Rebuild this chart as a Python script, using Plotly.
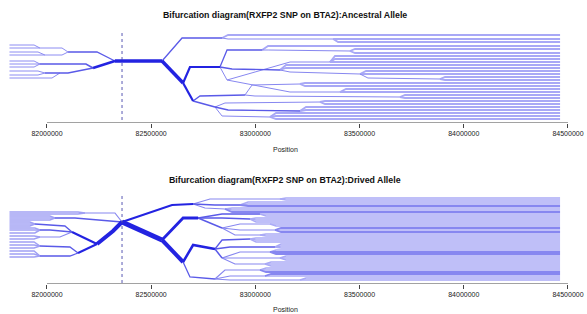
import plotly.graph_objects as go

# ---------------- data ----------------
TICK_KB = [82000, 82500, 83000, 83500, 84000, 84500]
TICK_TEXT = ["82000000", "82500000", "83000000", "83500000", "84000000", "84500000"]
SNP_KB = 82360          # focal SNP position (kb)
START_KB = 81820        # first marker (kb)
END_KB = 84462          # last marker (kb)

TITLES = ["Bifurcation diagram(RXFP2 SNP on BTA2):Ancestral Allele",
          "Bifurcation diagram(RXFP2 SNP on BTA2):Drived Allele"]
X_LABEL = "Position"

# internal branches: (line width ~ haplotype count, [(kb, lane), ...])
ANC_BRANCHES = [
    (3.5, [(82326, 31), (82552, 31)]),
    (1.3, [(82326, 31), (82240, 22), (82101, 22)]),
    (2.5, [(82326, 31), (82221, 38)]),
    (1.6, [(82221, 38), (82187, 34), (81966, 34)]),
    (1.6, [(82221, 38), (82101, 43), (81990, 43)]),
    (1.3, [(82552, 31), (82648, 8), (82840, 8)]),
    (1.0, [(82840, 8), (82869, 9), (83373, 9)]),
    (3.5, [(82552, 31), (82653, 53)]),
    (2.2, [(82653, 53), (82686, 37), (82830, 37)]),
    (1.3, [(82830, 37), (82864, 20), (83032, 20)]),
    (1.0, [(83032, 20), (83061, 20), (83454, 21)]),
    (1.0, [(82830, 37), (82864, 50), (83166, 32), (83358, 32)]),
    (1.3, [(82830, 37), (82888, 39), (83118, 40)]),
    (1.0, [(83118, 40), (83166, 42), (83502, 44)]),
    (1.0, [(83502, 44), (83540, 48), (83886, 49)]),
    (1.0, [(82864, 50), (83166, 62), (83406, 62)]),
    (2.2, [(82653, 53), (82701, 71)]),
    (1.3, [(82701, 71), (82734, 66), (82950, 65)]),
    (1.0, [(82950, 65), (82984, 55), (83214, 54)]),
    (1.0, [(82950, 65), (82998, 66), (83694, 67)]),
    (1.6, [(82701, 71), (82806, 77)]),
    (1.0, [(82806, 77), (82854, 73), (83310, 72)]),
    (1.3, [(82806, 77), (82869, 80), (83214, 81)]),
    (1.0, [(82806, 77), (82840, 86), (83070, 87)]),
]
# leaves: (node kb, node lane, bend kb, leaf lane)
ANC_LEFT_LEAVES = [
    (82101, 22, 82072, 18), (81966, 18, 81938, 15), (82101, 22, 82072, 25),
    (81990, 25, 81957, 22), (81966, 34, 81938, 31), (81966, 34, 81938, 34),
    (81966, 34, 81938, 37), (81990, 43, 81957, 41), (81990, 43, 81957, 45),
    (82062, 43, 82024, 48),
]
ANC_RIGHT_LEAVES = [
    (82840, 8, 82869, 5), (83373, 9, 83397, 9), (83373, 9, 83397, 12),
    (83032, 20, 83061, 16), (83454, 21, 83478, 19), (83454, 21, 83478, 23),
    (83358, 32, 83382, 26), (83358, 32, 83382, 29), (83358, 32, 83382, 32),
    (83118, 40, 83147, 35), (83118, 40, 83147, 38), (83502, 44, 83531, 41),
    (83502, 44, 83531, 44), (83886, 49, 83910, 47), (83886, 49, 83910, 50),
    (83406, 62, 83435, 59), (83406, 62, 83435, 62), (83214, 54, 83238, 53),
    (83214, 54, 83238, 56), (83694, 67, 83718, 65), (83694, 67, 83718, 68),
    (83310, 72, 83334, 71), (83310, 72, 83334, 74), (83214, 81, 83243, 77),
    (83214, 81, 83243, 80), (83070, 87, 83099, 83), (83070, 87, 83099, 86),
    (83070, 87, 83099, 89),
]

DER_BRANCHES = [
    (5.0, [(82360, 32), (82552, 50)]),
    (4.0, [(82552, 50), (82653, 72)]),
    (4.0, [(82360, 32), (82317, 41), (82240, 54)]),
    (2.2, [(82240, 54), (82120, 42)]),
    (2.0, [(82240, 54), (82149, 63)]),
    (1.6, [(82360, 32), (82240, 30), (82134, 28), (82038, 28)]),
    (1.2, [(82360, 32), (82326, 23), (82182, 23)]),
    (1.3, [(82120, 42), (82086, 36), (81942, 34)]),
    (1.3, [(82120, 42), (82014, 40), (81966, 40)]),
    (1.2, [(82120, 42), (82062, 47), (81966, 47)]),
    (1.3, [(82149, 63), (82110, 57), (81966, 56)]),
    (1.3, [(82149, 63), (82110, 66), (81966, 66)]),
    (2.2, [(82360, 32), (82600, 15), (82701, 14)]),
    (1.2, [(82701, 14), (82782, 9), (83118, 9)]),
    (1.5, [(82701, 14), (82806, 15), (82926, 15)]),
    (1.2, [(82701, 14), (82758, 18), (82854, 19)]),
    (2.8, [(82552, 50), (82653, 28), (82725, 28)]),
    (1.3, [(82725, 28), (82840, 24), (83022, 24)]),
    (1.3, [(82725, 28), (82840, 28), (82974, 29)]),
    (1.5, [(82725, 28), (82840, 38)]),
    (1.2, [(82840, 38), (82926, 34), (83070, 34)]),
    (1.2, [(82840, 38), (82926, 40), (83094, 40)]),
    (1.2, [(82840, 38), (82902, 45), (83022, 45)]),
    (2.5, [(82653, 72), (82701, 55), (82806, 59)]),
    (1.3, [(82806, 59), (82840, 50), (82974, 49)]),
    (1.3, [(82806, 59), (82878, 57), (83094, 57)]),
    (1.5, [(82806, 59), (82840, 68)]),
    (1.2, [(82840, 68), (82926, 62), (83070, 62)]),
    (1.2, [(82840, 68), (82926, 68), (83118, 68)]),
    (1.2, [(82840, 68), (82902, 74), (83046, 74)]),
    (1.3, [(82653, 72), (82686, 87), (82806, 89)]),
    (1.2, [(82806, 89), (82854, 80), (83022, 80)]),
    (1.2, [(82806, 89), (82878, 86), (83046, 86)]),
    (1.2, [(82806, 89), (82878, 90), (83214, 90)]),
]
DER_LEFT_LEAVES = [
    (82182, 23, 82149, 22), (82182, 23, 82149, 24),
    (82038, 28, 82014, 26), (82038, 28, 82014, 28), (82038, 28, 82014, 30),
    (81942, 34, 81918, 32), (81942, 34, 81918, 34), (81942, 34, 81918, 36),
    (81966, 40, 81942, 38), (81966, 40, 81942, 40), (81966, 40, 81942, 43),
    (81966, 47, 81938, 46), (81966, 47, 81938, 49),
    (81966, 56, 81938, 52), (81966, 56, 81938, 55), (81966, 56, 81938, 58),
    (81966, 66, 81938, 61), (81966, 66, 81938, 64), (81966, 66, 81938, 67),
]
DER_RIGHT_LEAVES = [
    (83118, 9, 83147, 8), (83118, 9, 83147, 10),
    (82926, 15, 82965, 12), (82926, 15, 82965, 14), (82926, 15, 82965, 16),
    (82854, 19, 82888, 18), (82854, 19, 82888, 20), (82854, 19, 82888, 22),
    (83022, 24, 83051, 24), (83022, 24, 83051, 26),
    (82974, 29, 83003, 28), (82974, 29, 83003, 30), (82974, 29, 83003, 32),
    (83070, 34, 83099, 34), (83070, 34, 83099, 36),
    (83094, 40, 83123, 38), (83094, 40, 83123, 40), (83094, 40, 83123, 42),
    (83022, 45, 83051, 44), (83022, 45, 83051, 46),
    (82974, 49, 83003, 48), (82974, 49, 83003, 50), (82974, 49, 83003, 52),
    (83094, 57, 83123, 54), (83094, 57, 83123, 56), (83094, 57, 83123, 58),
    (83070, 62, 83099, 60), (83070, 62, 83099, 62), (83070, 62, 83099, 64),
    (83118, 68, 83147, 66), (83118, 68, 83147, 68), (83118, 68, 83147, 70),
    (83046, 74, 83075, 72), (83046, 74, 83075, 74), (83046, 74, 83075, 76),
    (83022, 80, 83051, 78), (83022, 80, 83051, 80), (83022, 80, 83051, 82),
    (83046, 86, 83075, 84), (83046, 86, 83075, 86),
    (83214, 90, 83243, 88), (83214, 90, 83243, 90),
]
# leaf lanes carrying several identical haplotypes (drawn darker)
DER_DARK_LANES = [16, 22, 38, 42, 62, 64, 82, 84]

# ---------------- figure ----------------
W, H = 587, 314
fig = go.Figure()


def leaf_paths(leaves, end_kb, width, only=None, skip=None):
    out = []
    for xn, ln, xb, lf in leaves:
        if only is not None and lf not in only:
            continue
        if skip is not None and lf in skip:
            continue
        out.append((width, [(xn, ln), (xb, lf), (end_kb, lf)]))
    return out


def color_for(w):
    if w >= 2.0:
        return "rgb(35,35,225)"
    if w >= 1.3:
        return "rgb(90,90,232)"
    return "rgb(135,135,240)"


def add_group(paths, xa, ya, color=None):
    groups = {}
    for w, pts in paths:
        xs, ys = groups.setdefault(w, ([], []))
        for x, y in pts:
            xs.append(x * 1000)
            ys.append(y)
        xs.append(None)
        ys.append(None)
    for w in sorted(groups):
        xs, ys = groups[w]
        fig.add_trace(go.Scatter(
            x=xs, y=ys, mode="lines",
            line=dict(width=w, color=color or color_for(w)),
            xaxis=xa, yaxis=ya, hoverinfo="skip", showlegend=False))


add_group(leaf_paths(ANC_LEFT_LEAVES, START_KB, 1.0), "x", "y", "rgb(140,140,242)")
add_group(leaf_paths(ANC_RIGHT_LEAVES, END_KB, 1.8), "x", "y", "rgb(168,168,246)")
add_group(ANC_BRANCHES, "x", "y")
add_group(leaf_paths(DER_LEFT_LEAVES, START_KB, 1.5), "x2", "y2", "rgb(160,160,244)")
add_group(leaf_paths(DER_RIGHT_LEAVES, END_KB, 1.5, skip=DER_DARK_LANES),
          "x2", "y2", "rgb(170,170,246)")
add_group(leaf_paths(DER_RIGHT_LEAVES, END_KB, 1.8, only=DER_DARK_LANES),
          "x2", "y2", "rgb(135,135,240)")
add_group(DER_BRANCHES, "x2", "y2")

# layout geometry (paper fractions)
top_dom = [1 - 123 / H, 1 - 28 / H]
bot_dom = [1 - 284 / H, 1 - 193 / H]
x_range = [81774500, 84591200]
top_yr = [93, -2]
bot_yr = [94, 3]

xcommon = dict(range=x_range, domain=[0, 1], showgrid=False, zeroline=False,
               showline=False, ticks="outside", ticklen=4, tickwidth=1,
               tickcolor="#444", tickvals=[t * 1000 for t in TICK_KB],
               ticktext=TICK_TEXT,
               tickfont=dict(family="Liberation Sans, Arial", size=7, color="#222"))
ycommon = dict(showgrid=False, zeroline=False, showline=False,
               showticklabels=False, ticks="")

fig.update_layout(
    width=W, height=H,
    margin=dict(l=0, r=0, t=0, b=0),
    paper_bgcolor="white", plot_bgcolor="white",
    showlegend=False,
    xaxis=dict(anchor="y", **xcommon),
    yaxis=dict(anchor="x", domain=top_dom, range=top_yr, **ycommon),
    xaxis2=dict(anchor="y2", **xcommon),
    yaxis2=dict(anchor="x2", domain=bot_dom, range=bot_yr, **ycommon),
)

shapes = []
for xr, yr, yrng, top_lane in (("x", "y", top_yr, 3), ("x2", "y2", bot_yr, 6)):
    shapes.append(dict(type="line", xref=xr, yref=yr,
                       x0=TICK_KB[0] * 1000, x1=TICK_KB[-1] * 1000,
                       y0=yrng[0], y1=yrng[0],
                       line=dict(color="#444", width=1)))
    shapes.append(dict(type="line", xref=xr, yref=yr,
                       x0=SNP_KB * 1000, x1=SNP_KB * 1000,
                       y0=top_lane, y1=yrng[0],
                       line=dict(color="rgb(70,70,170)", width=0.9, dash="dot")))
fig.update_layout(shapes=shapes)

annotations = []
for text, ypx in ((TITLES[0], 15), (TITLES[1], 180)):
    annotations.append(dict(text="<b>" + text + "</b>", x=285 / W, y=1 - ypx / H,
                            xref="paper", yref="paper", showarrow=False,
                            xanchor="center", yanchor="middle",
                            font=dict(family="Liberation Sans, Arial", size=8.8, color="#111")))
for ypx in (149, 309):
    annotations.append(dict(text=X_LABEL, x=285 / W, y=1 - ypx / H,
                            xref="paper", yref="paper", showarrow=False,
                            xanchor="center", yanchor="middle",
                            font=dict(family="Liberation Sans, Arial", size=7, color="#222")))
fig.update_layout(annotations=annotations)

fig.write_html("out.html",
               config={"displayModeBar": False, "staticPlot": True},
               post_script="document.body.style.margin='0';document.body.style.overflow='hidden';")
